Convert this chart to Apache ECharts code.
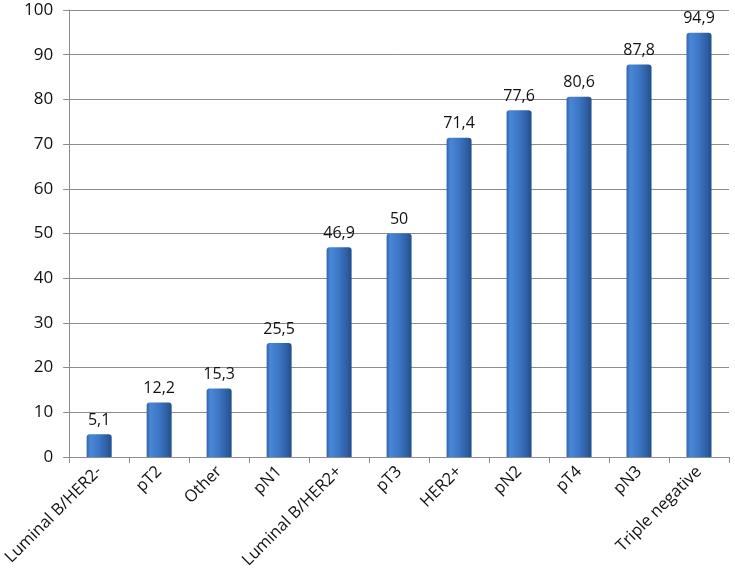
<!DOCTYPE html>
<html><head><meta charset="utf-8">
<script src="https://cdn.jsdelivr.net/npm/echarts@6/dist/echarts.min.js"></script>
<style>html,body{margin:0;padding:0;background:#fff}#c{width:735px;height:579px}</style>
</head><body><div id="c"></div>
<script>
const categories = ["Luminal B/HER2-","pT2","Other","pN1","Luminal B/HER2+","pT3","HER2+","pN2","pT4","pN3","Triple negative"];
const values = [5.1,12.2,15.3,25.5,46.9,50,71.4,77.6,80.6,87.8,94.9];
const yTicks = [0,10,20,30,40,50,60,70,80,90,100];
const FONT = "'Open Sans', 'Liberation Sans', sans-serif";
const chart = echarts.init(document.getElementById('c'));
chart.setOption({
  animation:false,
  grid:{left:67,right:6,top:10,bottom:122,containLabel:false},
  xAxis:{type:'category',data:categories,
    axisLine:{lineStyle:{color:'#8c8c8c',width:1}},
    axisTick:{show:true,length:6,lineStyle:{color:'#8c8c8c'}},
    axisLabel:{rotate:45,color:'#111',fontSize:16.5,fontFamily:FONT,margin:12,interval:0}},
  yAxis:{type:'value',min:yTicks[0],max:yTicks[yTicks.length-1],interval:10,
    axisLine:{show:true,lineStyle:{color:'#8c8c8c'}},
    axisTick:{show:true,length:6,lineStyle:{color:'#8c8c8c'}},
    splitLine:{lineStyle:{color:'#8c8c8c',width:1}},
    axisLabel:{color:'#111',fontSize:17,fontFamily:FONT,margin:16}},
  series:[{type:'bar',data:values,barWidth:25,
    itemStyle:{
      borderRadius:[3,3,0,0],
      color:new echarts.graphic.LinearGradient(0,0,1,0,[
        {offset:0,color:'#2f63ad'},{offset:0.15,color:'#4a86d6'},{offset:0.45,color:'#3e79c8'},
        {offset:0.85,color:'#2c5c9f'},{offset:1,color:'#234d8a'}])},
    label:{show:true,position:'top',distance:6,color:'#111',fontSize:16,fontFamily:FONT,
      formatter:p=>String(p.value).replace('.',',')}}]
});
</script></body></html>
